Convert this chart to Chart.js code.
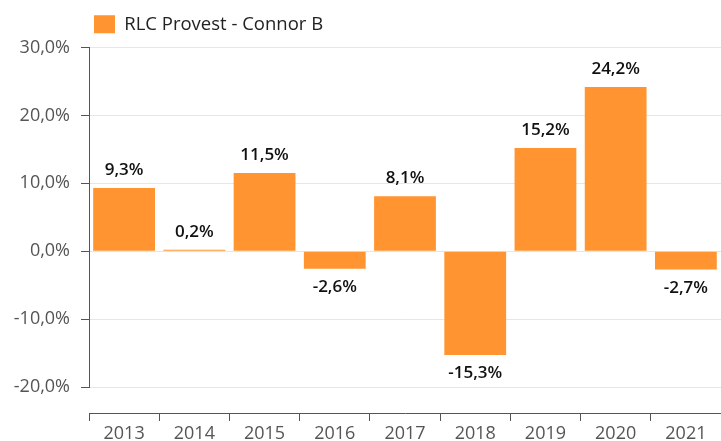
<!DOCTYPE html>
<html>
<head>
<meta charset="utf-8">
<script src="https://cdn.jsdelivr.net/npm/chart.js@4"></script>
<style>
  html, body { margin: 0; padding: 0; background: #fff; }
  #wrap { width: 721px; height: 441px; }
</style>
</head>
<body>
<div id="wrap"><canvas id="chart"></canvas></div>
<script>
// data
const years = ['2013', '2014', '2015', '2016', '2017', '2018', '2019', '2020', '2021'];
const returns = [9.3, 0.2, 11.5, -2.6, 8.1, -15.3, 15.2, 24.2, -2.7];
const seriesName = 'RLC Provest - Connor B';
const yTicks = [-20, -10, 0, 10, 20, 30];

const orange = '#ff9430';
const fontFamily = '"Open Sans", "Noto Sans", sans-serif';

// format like 9,3%
function pct(v) {
    return v.toFixed(1).replace('.', ',') + '%';
}

// draws the value above / below each bar
const barLabels = {
    id: 'barLabels',
    afterDatasetsDraw(chart) {
        const ctx = chart.ctx;
        const meta = chart.getDatasetMeta(0);
        ctx.save();
        ctx.font = '600 17px ' + fontFamily;
        ctx.fillStyle = '#111';
        ctx.textAlign = 'center';
        ctx.textBaseline = 'alphabetic';
        meta.data.forEach((bar, i) => {
            const v = returns[i];
            const y = v >= 0 ? bar.y - 13 : bar.y + 23;
            ctx.fillText(pct(v), bar.x, y);
        });
        ctx.restore();
    }
};

const ctx = document.getElementById('chart').getContext('2d');
new Chart(ctx, {
    type: 'bar',
    data: {
        labels: years,
        datasets: [{
            label: seriesName,
            data: returns,
            backgroundColor: orange,
            borderWidth: 0,
            barPercentage: 0.88,
            categoryPercentage: 1
        }]
    },
    options: {
        responsive: true,
        maintainAspectRatio: false,
        animation: false,
        layout: { padding: { top: 10, left: 0, right: 0, bottom: 0 } },
        plugins: {
            tooltip: { enabled: false },
            legend: {
                position: 'top',
                align: 'start',
                fullSize: false,
                labels: {
                    boxWidth: 21,
                    boxHeight: 18,
                    padding: 5,
                    color: '#222',
                    font: { family: fontFamily, size: 18.5 }
                }
            }
        },
        scales: {
            x: {
                weight: 1,
                grid: {
                    display: true,
                    drawOnChartArea: false,
                    offset: true,
                    tickLength: 8,
                    tickColor: '#555'
                },
                border: { display: true, color: '#555', width: 1 },
                ticks: {
                    color: '#555',
                    padding: 2,
                    font: { family: fontFamily, size: 18 }
                },
                afterFit(s) { s.height = 28; }
            },
            gap: {
                type: 'linear',
                position: 'bottom',
                weight: 0,
                grid: { display: false },
                border: { display: false },
                ticks: { display: false },
                afterFit(s) { s.height = 26; }
            },
            y: {
                min: -20,
                max: 30,
                afterBuildTicks(s) { s.ticks = yTicks.map(v => ({ value: v })); },
                grid: {
                    color: '#e6e6e6',
                    tickColor: '#555',
                    tickLength: 8
                },
                border: { display: true, color: '#555', width: 1 },
                ticks: {
                    color: '#555',
                    padding: 11,
                    font: { family: fontFamily, size: 18 },
                    callback: v => pct(v)
                },
                afterFit(s) { s.width = 89; }
            }
        }
    },
    plugins: [barLabels, {
        // push the plot area down below the legend
        id: 'legendGap',
        afterInit(chart) {
            const lg = chart.legend;
            const fit = lg.fit;
            lg.fit = function () { fit.call(this); this.height += 4; };
        }
    }]
});
</script>
</body>
</html>
